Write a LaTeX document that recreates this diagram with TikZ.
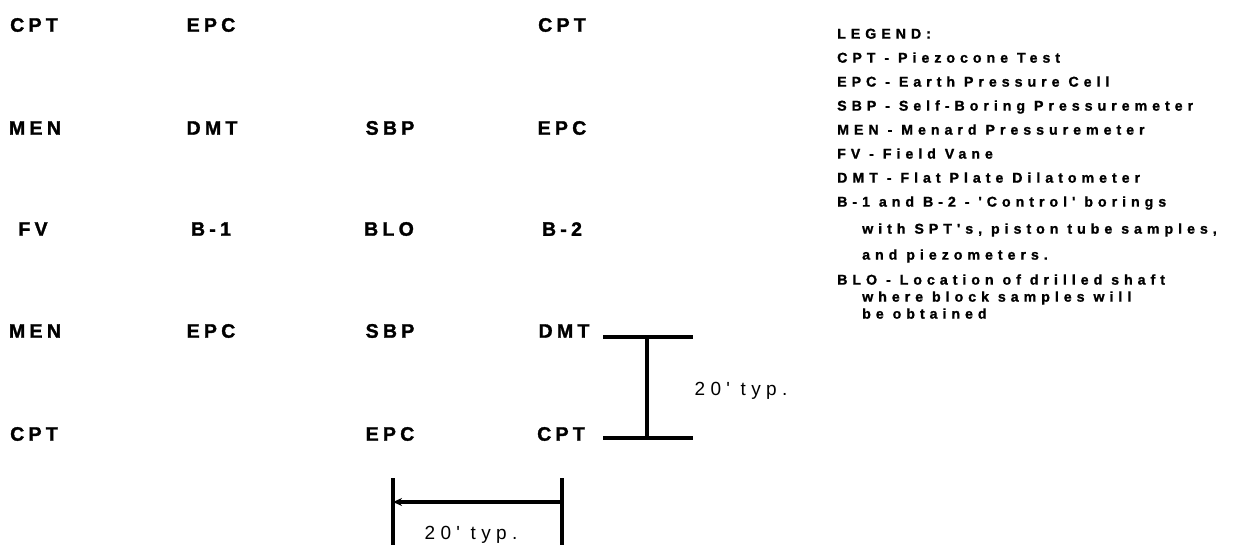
\documentclass[tikz,border=0pt]{standalone}
\usepackage{fontspec}
\setmainfont{Liberation Sans}
\newfontfamily\gridfont[LetterSpace=22,BoldFeatures={FakeBold=1.5}]{Liberation Sans}
\newfontfamily\legfont[LetterSpace=35,BoldFeatures={FakeBold=1.2}]{Liberation Sans}
\newfontfamily\dimfont[LetterSpace=28]{Liberation Sans}
\usetikzlibrary{arrows.meta}
\begin{document}
\begin{tikzpicture}[x=1pt,y=-1pt,
  gridlab/.style={font=\gridfont\bfseries\fontsize{19.5}{23}\selectfont, inner sep=0pt, anchor=center},
  leglab/.style={font=\legfont\bfseries\fontsize{14.2}{17}\selectfont, inner sep=0pt, anchor=mid west},
  dimlab/.style={font=\dimfont\fontsize{19}{22}\selectfont, inner sep=0pt},
  dimline/.style={line width=3.2pt}]
\useasboundingbox (0,0) rectangle (1246,545);
% grid
\node[gridlab] (r1c1) at (34,25) {CPT};
\node[gridlab] (r1c2) at (211,25) {EPC};
\node[gridlab] (r1c4) at (562,25) {CPT};
\node[gridlab] (r2c1) at (35,128) {MEN};
\node[gridlab] (r2c2) at (212,128) {DMT};
\node[gridlab] (r2c3) at (390,128) {SBP};
\node[gridlab] (r2c4) at (562,128) {EPC};
\node[gridlab] (r3c1) at (33,229) {FV};
\node[gridlab] (r3c2) at (211,229) {B-1};
\node[gridlab] (r3c3) at (389,229) {BLO};
\node[gridlab] (r3c4) at (562,229) {B-2};
\node[gridlab] (r4c1) at (35,331) {MEN};
\node[gridlab] (r4c2) at (211,331) {EPC};
\node[gridlab] (r4c3) at (390,331) {SBP};
\node[gridlab] (r4c4) at (564,331) {DMT};
\node[gridlab] (r5c1) at (34,434) {CPT};
\node[gridlab] (r5c3) at (390,434) {EPC};
\node[gridlab] (r5c4) at (561,434) {CPT};
% legend
\node[leglab] (lg0) at (837,36) {LEGEND:};
\node[leglab] (lg1) at (837,60) {CPT - Piezocone Test};
\node[leglab] (lg2) at (837,84) {EPC - Earth Pressure Cell};
\node[leglab] (lg3) at (837,108) {SBP - Self-Boring Pressuremeter};
\node[leglab] (lg4) at (837,132) {MEN - Menard Pressuremeter};
\node[leglab] (lg5) at (837,156) {FV - Field Vane};
\node[leglab] (lg6) at (837,180) {DMT - Flat Plate Dilatometer};
\node[leglab] (lg7) at (837,204) {B-1 and B-2 - 'Control' borings};
\node[leglab] (lg8) at (862,231) {with SPT's, piston tube samples,};
\node[leglab] (lg9) at (862,257) {and piezometers.};
\node[leglab] (lg10) at (837,282) {BLO - Location of drilled shaft};
\node[leglab] (lg11) at (862,299) {where block samples will};
\node[leglab] (lg12) at (862,316) {be obtained};
% vertical dimension
\coordinate (vt1) at (603,337);
\coordinate (vt2) at (693,337);
\coordinate (vb1) at (603,438);
\coordinate (vb2) at (693,438);
\coordinate (vtop) at (647,337);
\coordinate (vbot) at (647,438);
\draw[dimline] (vt1) -- (vt2);
\draw[dimline] (vb1) -- (vb2);
\draw[dimline] (vtop) -- (vbot);
\node[dimlab] (vlab) at (741,391) {20' typ.};
% horizontal dimension
\coordinate (hl1) at (393,478);
\coordinate (hl2) at (393,545);
\coordinate (hr1) at (562,478);
\coordinate (hr2) at (562,545);
\coordinate (hla) at (393,502);
\coordinate (hra) at (562,502);
\draw[dimline] (hl1) -- (hl2);
\draw[dimline] (hr1) -- (hr2);
\draw[dimline,-{Stealth[length=9pt,width=8pt]}] (hra) -- (hla);
\node[dimlab] (hlab) at (471,535) {20' typ.};
\end{tikzpicture}
\end{document}
